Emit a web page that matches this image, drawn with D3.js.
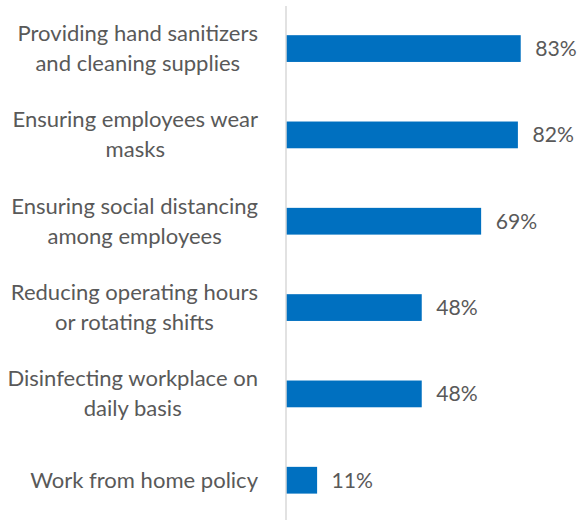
<!DOCTYPE html>
<html>
<head>
<meta charset="utf-8">
<script src="https://cdn.jsdelivr.net/npm/d3@7"></script>
<style>
  html, body { margin: 0; padding: 0; background: #fff; }
  svg { display: block; }
</style>
</head>
<body>
<svg id="chart" width="578" height="520"></svg>
<script>
// Workplace safety measures, share of respondents (%)
const categories = [
  ["Providing hand sanitizers", "and cleaning supplies"],
  ["Ensuring employees wear", "masks"],
  ["Ensuring social distancing", "among employees"],
  ["Reducing operating hours", "or rotating shifts"],
  ["Disinfecting workplace on", "daily basis"],
  ["Work from home policy"]
];
const values = [83, 82, 69, 48, 48, 11];
const valueLabels = ["83%", "82%", "69%", "48%", "48%", "11%"];

const W = 578, H = 520;
const axisX = 286;
const fontFamily = "Lato, 'Open Sans', sans-serif";
const textColor = "#595959";
const barColor = "#0070C0";

const svg = d3.select("#chart");

const x = d3.scaleLinear().domain([0, 100]).range([axisX, axisX + 282.8]);
const y = d3.scaleBand()
  .domain(d3.range(categories.length))
  .range([5.4, 523.4])
  .paddingInner(0.69)
  .paddingOuter(0.345);

// font size at which a string spans a given width
function fitSize(str, width) {
  const probe = svg.append("text")
    .attr("font-family", fontFamily)
    .attr("font-size", 100)
    .text(str);
  const w = probe.node().getComputedTextLength();
  probe.remove();
  return width / w * 100;
}
const fontSize = fitSize("Work from home policy", 228);
const valueSize = Math.min(fontSize, fitSize("83%", 41.5));
const lineGap = 30;
const capHalf = fontSize * 0.34;

// bars
svg.append("g")
  .selectAll("rect")
  .data(values)
  .join("rect")
  .attr("x", x(0))
  .attr("y", (d, i) => y(i))
  .attr("width", d => x(d) - x(0))
  .attr("height", y.bandwidth())
  .attr("fill", barColor);

// value labels
svg.append("g")
  .selectAll("text")
  .data(values)
  .join("text")
  .attr("x", d => x(d) + 14.5)
  .attr("y", (d, i) => y(i) + y.bandwidth() / 2 + capHalf)
  .attr("font-family", fontFamily)
  .attr("font-size", valueSize)
  .attr("fill", textColor)
  .text((d, i) => valueLabels[i]);

// category labels: lines centred within a block right-aligned to the axis
const labelRight = 258;
const labels = svg.append("g")
  .selectAll("g")
  .data(categories)
  .join("g");

labels.each(function(lines, i) {
  const g = d3.select(this);
  const cy = y(i) + y.bandwidth() / 2;
  const texts = g.selectAll("text")
    .data(lines)
    .join("text")
    .attr("font-family", fontFamily)
    .attr("font-size", fontSize)
    .attr("fill", textColor)
    .attr("text-anchor", "middle")
    .attr("y", (d, j) => cy + (j - (lines.length - 1) / 2) * lineGap + capHalf)
    .text(d => d);
  let maxW = 0;
  texts.each(function() { maxW = Math.max(maxW, this.getComputedTextLength()); });
  texts.attr("x", labelRight - maxW / 2);
});

// vertical category axis line
svg.append("line")
  .attr("x1", axisX).attr("x2", axisX)
  .attr("y1", 6).attr("y2", H)
  .attr("stroke", "#d9d9d9")
  .attr("stroke-width", 1.5);
</script>
</body>
</html>
